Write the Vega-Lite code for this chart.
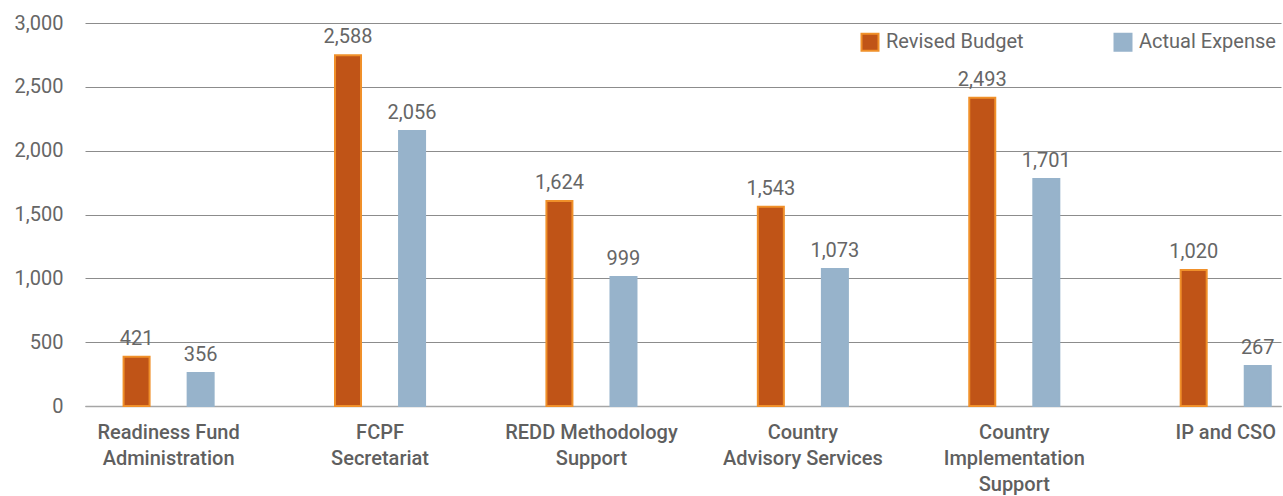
{
  "$schema": "https://vega.github.io/schema/vega-lite/v6.json",
  "autosize": {"type": "none"},
  "padding": {"left": 85, "top": 23, "right": 2, "bottom": 90},
  "width": 1196,
  "height": 383,
  "background": "white",
  "config": {
    "view": {"stroke": null},
    "font": "Roboto"
  },
  "data": {
    "values": [
      {"category": "Readiness Fund|Administration", "series": "Revised Budget", "value": 386, "label": "421"},
      {"category": "Readiness Fund|Administration", "series": "Actual Expense", "value": 258, "label": "356"},
      {"category": "FCPF|Secretariat", "series": "Revised Budget", "value": 2747, "label": "2,588"},
      {"category": "FCPF|Secretariat", "series": "Actual Expense", "value": 2154, "label": "2,056"},
      {"category": "REDD Methodology|Support", "series": "Revised Budget", "value": 1606, "label": "1,624"},
      {"category": "REDD Methodology|Support", "series": "Actual Expense", "value": 1010, "label": "999"},
      {"category": "Country|Advisory Services", "series": "Revised Budget", "value": 1561, "label": "1,543"},
      {"category": "Country|Advisory Services", "series": "Actual Expense", "value": 1073, "label": "1,073"},
      {"category": "Country|Implementation|Support", "series": "Revised Budget", "value": 2415, "label": "2,493"},
      {"category": "Country|Implementation|Support", "series": "Actual Expense", "value": 1778, "label": "1,701"},
      {"category": "IP and CSO", "series": "Revised Budget", "value": 1065, "label": "1,020"},
      {"category": "IP and CSO", "series": "Actual Expense", "value": 313, "label": "267"}
    ]
  },
  "encoding": {
    "x": {
      "field": "category",
      "type": "nominal",
      "sort": null,
      "scale": {"paddingInner": 0.574, "paddingOuter": 0.1155, "align": 0.79},
      "axis": {
        "title": null,
        "labelAngle": 0,
        "labelExpr": "split(datum.label, '|')",
        "labelFontSize": 20,
        "labelFontWeight": 500,
        "labelColor": "#5f5f5f",
        "labelLineHeight": 26,
        "labelPadding": 16,
        "labelLimit": 300,
        "ticks": false,
        "domainColor": "#a6a6a6",
        "domainWidth": 1.5,
        "grid": false
      }
    },
    "xOffset": {
      "field": "series",
      "type": "nominal",
      "sort": ["Revised Budget", "Actual Expense"],
      "scale": {"paddingInner": 0.594, "paddingOuter": 0}
    },
    "y": {
      "field": "value",
      "type": "quantitative",
      "scale": {"domain": [0, 3000], "nice": false},
      "axis": {
        "title": null,
        "values": [0, 500, 1000, 1500, 2000, 2500, 3000],
        "format": ",.0f",
        "labelFontSize": 20,
        "labelColor": "#666666",
        "labelPadding": 22,
        "ticks": false,
        "domain": false,
        "gridColor": "#8c8c8c",
        "gridWidth": 1
      }
    }
  },
  "layer": [
    {
      "mark": {"type": "bar", "strokeWidth": 2},
      "encoding": {
        "fill": {
          "field": "series",
          "type": "nominal",
          "sort": ["Revised Budget", "Actual Expense"],
          "scale": {"domain": ["Revised Budget", "Actual Expense"], "range": ["#C05417", "#97B3CB"]},
          "legend": {
            "title": null,
            "orient": "none",
            "legendX": 775,
            "legendY": 9,
            "direction": "horizontal",
            "symbolType": "square",
            "symbolSize": 289,
            "symbolStrokeWidth": 2,
            "labelFontSize": 20,
            "labelColor": "#666666",
            "labelOffset": 6,
            "columnPadding": 86
          }
        },
        "stroke": {
          "field": "series",
          "type": "nominal",
          "sort": ["Revised Budget", "Actual Expense"],
          "scale": {"domain": ["Revised Budget", "Actual Expense"], "range": ["#F0902A", "#97B3CB"]},
          "legend": {
            "title": null,
            "orient": "none",
            "legendX": 775,
            "legendY": 9,
            "direction": "horizontal",
            "symbolType": "square",
            "symbolSize": 289,
            "symbolStrokeWidth": 2,
            "labelFontSize": 20,
            "labelColor": "#666666",
            "labelOffset": 6,
            "columnPadding": 86
          }
        }
      }
    },
    {
      "mark": {"type": "text", "dy": -12, "baseline": "alphabetic", "fontSize": 20, "color": "#666666"},
      "encoding": {
        "text": {"field": "label", "type": "nominal"}
      }
    }
  ]
}
